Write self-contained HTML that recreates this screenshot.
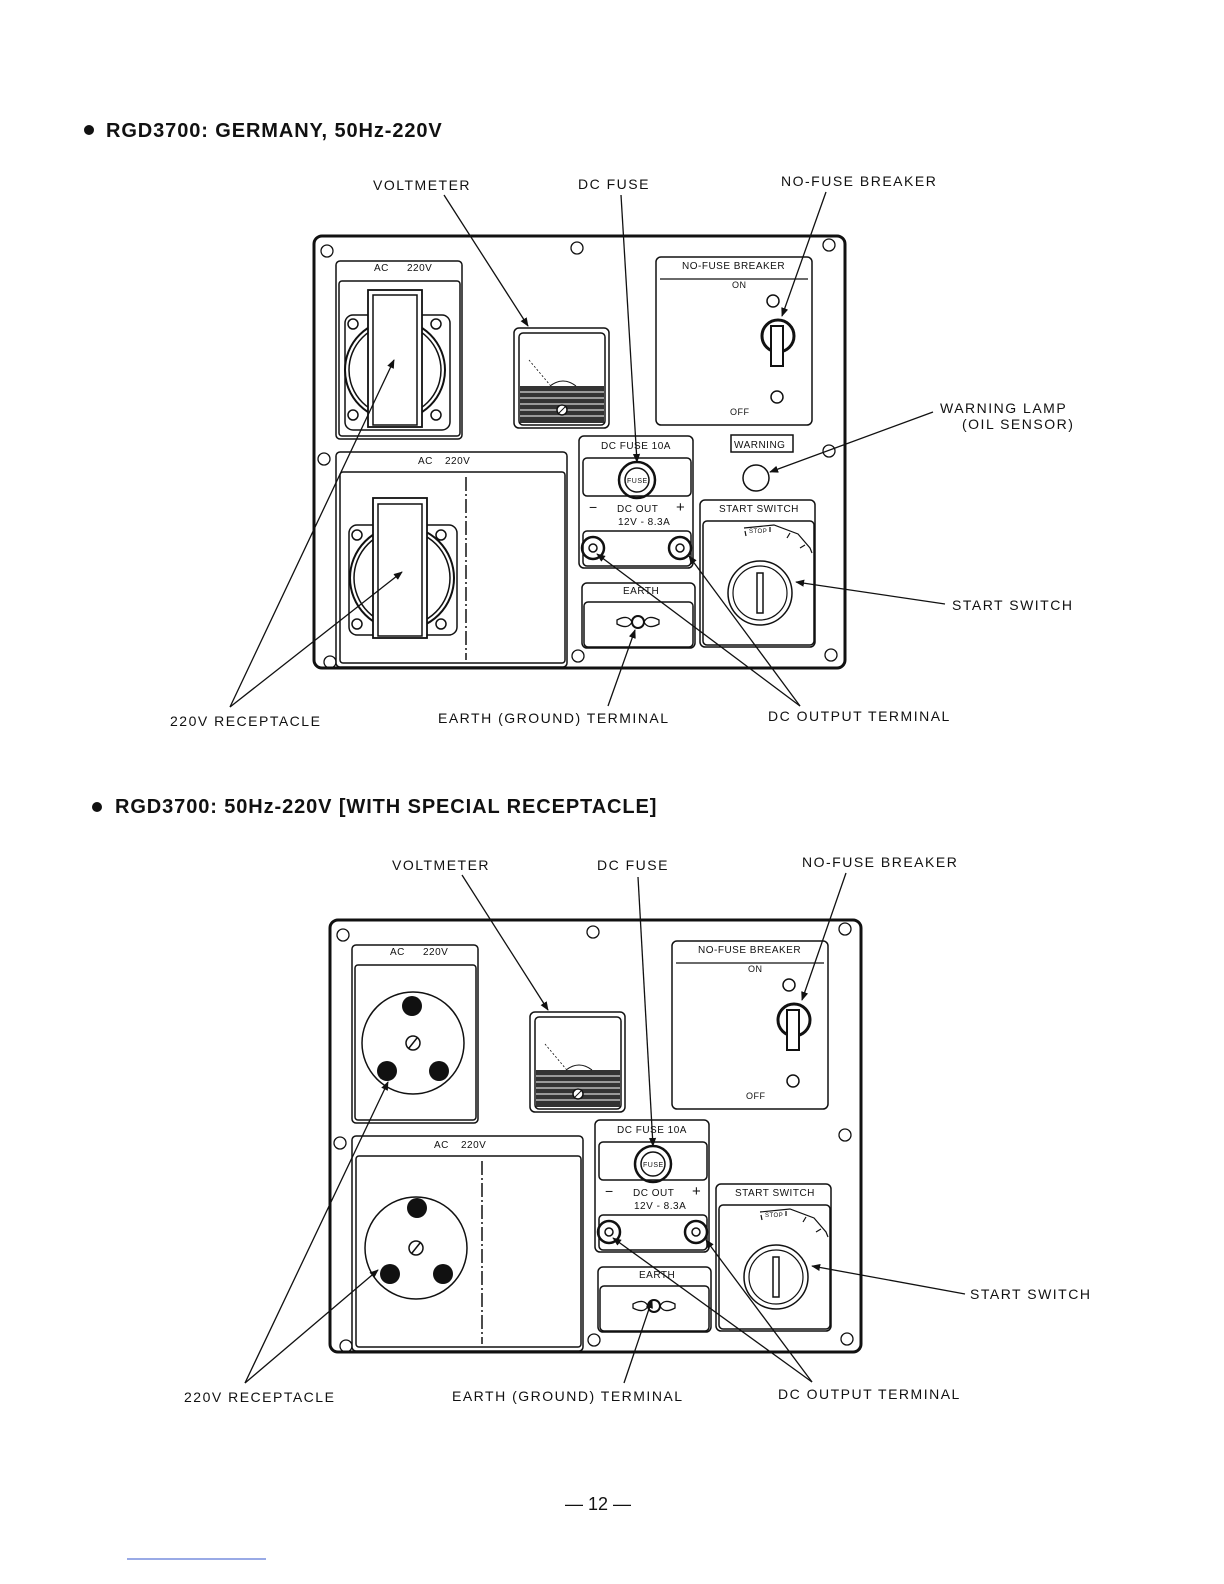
<!DOCTYPE html>
<html><head><meta charset="utf-8"><style>
html,body{margin:0;padding:0;background:#fff}
svg{display:block}
text{font-family:"Liberation Sans",sans-serif;fill:#111}
.l{font-size:14px;letter-spacing:1.5px}
.s{font-size:10px;letter-spacing:0.5px}
.h{font-size:20px;font-weight:bold;letter-spacing:0.9px}
</style></head><body>
<svg width="1224" height="1584" viewBox="0 0 1224 1584" xmlns="http://www.w3.org/2000/svg">
<defs>
<marker id="a" viewBox="0 0 10 10" refX="9" refY="5" markerWidth="9" markerHeight="9" orient="auto" markerUnits="userSpaceOnUse"><path d="M0,1 L10,5 L0,9 z" fill="#111"/></marker>
<g id="p">
<g fill="none" stroke="#111" stroke-width="1.5">
<rect x="314" y="236" width="531" height="432" rx="8" stroke-width="3"/>
<g stroke-width="1.3">
<circle cx="327" cy="251" r="6"/><circle cx="577" cy="248" r="6"/><circle cx="829" cy="245" r="6"/>
<circle cx="324" cy="459" r="6"/><circle cx="829" cy="451" r="6"/>
<circle cx="330" cy="662" r="6"/><circle cx="578" cy="656" r="6"/><circle cx="831" cy="655" r="6"/>
</g>
<rect x="336" y="261" width="126" height="178" rx="4"/>
<rect x="339" y="281" width="121" height="155" rx="3"/>
<rect x="336" y="452" width="231" height="215" rx="4"/>
<rect x="340" y="472" width="225" height="191" rx="3"/>
<line x1="466" y1="477" x2="466" y2="660" stroke-dasharray="14 3 2 3"/>
<rect x="514" y="328" width="95" height="100" rx="5"/>
<rect x="519" y="333" width="86" height="92" rx="4"/>
<rect x="520" y="386" width="84" height="37" fill="#333" stroke="none"/>
<g stroke="#fff" stroke-width="1"><line x1="520" y1="392" x2="604" y2="392"/><line x1="520" y1="398" x2="604" y2="398"/><line x1="520" y1="404" x2="604" y2="404"/><line x1="520" y1="410" x2="604" y2="410"/><line x1="520" y1="416" x2="604" y2="416"/></g>
<circle cx="562" cy="410" r="5" fill="#fff"/><line x1="559" y1="413" x2="565" y2="407" stroke-width="1"/>
<path d="M550,386 Q563,376 576,386" stroke-width="1"/>
<line x1="529" y1="360" x2="550" y2="385" stroke-width="0.8" stroke-dasharray="2 2"/>
<rect x="579" y="436" width="114" height="132" rx="5"/>
<rect x="583" y="458" width="108" height="38" rx="4"/>
<circle cx="637" cy="480" r="18" stroke-width="2.5"/><circle cx="637" cy="480" r="12"/>
<rect x="583" y="531" width="108" height="35" rx="4"/>
<circle cx="593" cy="548" r="11" stroke-width="2.5"/><circle cx="593" cy="548" r="4"/>
<circle cx="680" cy="548" r="11" stroke-width="2.5"/><circle cx="680" cy="548" r="4"/>
<rect x="582" y="583" width="113" height="65" rx="5"/>
<rect x="584" y="602" width="109" height="45" rx="4"/>
<path d="M617,620 Q628,614 632,622 Q628,630 617,624 z" stroke-width="1.3"/>
<path d="M659,620 Q648,614 644,622 Q648,630 659,624 z" stroke-width="1.3"/>
<circle cx="638" cy="622" r="6" stroke-width="2"/>
<rect x="656" y="257" width="156" height="168" rx="5"/>
<line x1="660" y1="279" x2="808" y2="279" stroke-width="1.2"/>
<circle cx="773" cy="301" r="6"/><circle cx="777" cy="397" r="6"/>
<circle cx="778" cy="336" r="16" stroke-width="3"/>
<rect x="771" y="326" width="12" height="40" fill="#fff" stroke-width="2"/>
<rect x="700" y="500" width="115" height="147" rx="5"/>
<rect x="703" y="521" width="111" height="124" rx="4"/>
<circle cx="760" cy="593" r="32" stroke-width="1.5"/>
<circle cx="760" cy="593" r="27" stroke-width="1.2"/>
<rect x="757" y="573" width="6" height="40" stroke-width="1.5"/>
<path d="M744,528 L774,525 L798,534 L810,548 L812,553" stroke-width="1.2"/>
<path d="M745,531 L746,536 M770,527 L770,532 M790,533 L787,538 M805,545 L800,548" stroke-width="1.2"/>
</g>
<g class="s">
<text x="374" y="271">AC</text><text x="407" y="271">220V</text>
<text x="418" y="464">AC</text><text x="445" y="464">220V</text>
<text x="601" y="449">DC FUSE 10A</text>
<text x="627" y="483" font-size="7">FUSE</text>
<text x="589" y="512" font-size="14">−</text><text x="617" y="512">DC OUT</text><text x="676" y="512" font-size="15">+</text>
<text x="618" y="525">12V - 8.3A</text>
<text x="623" y="594">EARTH</text>
<text x="682" y="269">NO-FUSE BREAKER</text>
<text x="732" y="288" font-size="9">ON</text>
<text x="730" y="415" font-size="9">OFF</text>
<text x="719" y="512">START SWITCH</text>
<text x="749" y="533" font-size="6">STOP</text>
</g>
</g>
</defs>

<g fill="none" stroke="#111" stroke-width="1.5">
<rect x="345" y="315" width="105" height="115" rx="8"/>
<circle cx="395" cy="370" r="50" stroke-width="2"/>
<circle cx="395" cy="370" r="46"/>
<circle cx="353" cy="324" r="5"/><circle cx="436" cy="324" r="5"/><circle cx="353" cy="415" r="5"/><circle cx="436" cy="415" r="5"/>
<rect x="368" y="290" width="54" height="137" fill="#fff" stroke-width="1.8"/>
<rect x="373" y="295" width="44" height="130"/>
<rect x="349" y="525" width="108" height="110" rx="8"/>
<circle cx="402" cy="578" r="52" stroke-width="2"/>
<circle cx="402" cy="578" r="48"/>
<circle cx="357" cy="535" r="5"/><circle cx="441" cy="535" r="5"/><circle cx="357" cy="624" r="5"/><circle cx="441" cy="624" r="5"/>
<rect x="373" y="498" width="54" height="140" fill="#fff" stroke-width="1.8"/>
<rect x="378" y="504" width="44" height="132"/>
<rect x="731" y="435" width="62" height="17"/>
<circle cx="756" cy="478" r="13"/>
</g>
<text class="s" x="734" y="448">WARNING</text>

<use href="#p"/>
<use href="#p" transform="translate(16,684)"/>

<g fill="none" stroke="#111" stroke-width="1.5">
<circle cx="413" cy="1043" r="51"/>
<circle cx="413" cy="1043" r="7"/><line x1="409" y1="1048" x2="417" y2="1038"/>
<circle cx="416" cy="1248" r="51"/>
<circle cx="416" cy="1248" r="7"/><line x1="412" y1="1253" x2="420" y2="1243"/>
</g>
<g fill="#111">
<circle cx="412" cy="1006" r="10"/><circle cx="387" cy="1071" r="10"/><circle cx="439" cy="1071" r="10"/>
<circle cx="417" cy="1208" r="10"/><circle cx="390" cy="1274" r="10"/><circle cx="443" cy="1274" r="10"/>
</g>

<circle cx="89" cy="130" r="5" fill="#111"/>
<text class="h" x="106" y="137">RGD3700: GERMANY, 50Hz-220V</text>
<circle cx="97" cy="807" r="5" fill="#111"/>
<text class="h" x="115" y="813">RGD3700: 50Hz-220V [WITH SPECIAL RECEPTACLE]</text>

<g class="l">
<text x="373" y="190">VOLTMETER</text>
<text x="578" y="189">DC FUSE</text>
<text x="781" y="186">NO-FUSE BREAKER</text>
<text x="940" y="413">WARNING LAMP</text>
<text x="962" y="429">(OIL SENSOR)</text>
<text x="952" y="610">START SWITCH</text>
<text x="170" y="726">220V RECEPTACLE</text>
<text x="438" y="723">EARTH (GROUND) TERMINAL</text>
<text x="768" y="721">DC OUTPUT TERMINAL</text>

<text x="392" y="870">VOLTMETER</text>
<text x="597" y="870">DC FUSE</text>
<text x="802" y="867">NO-FUSE BREAKER</text>
<text x="970" y="1299">START SWITCH</text>
<text x="184" y="1402">220V RECEPTACLE</text>
<text x="452" y="1401">EARTH (GROUND) TERMINAL</text>
<text x="778" y="1399">DC OUTPUT TERMINAL</text>
</g>

<g stroke="#111" stroke-width="1.3" fill="none" marker-end="url(#a)">
<line x1="444" y1="195" x2="528" y2="326"/>
<line x1="621" y1="195" x2="637" y2="462"/>
<line x1="826" y1="192" x2="782" y2="316"/>
<line x1="933" y1="412" x2="770" y2="472"/>
<line x1="945" y1="604" x2="796" y2="582"/>
<line x1="230" y1="707" x2="394" y2="360"/>
<line x1="230" y1="707" x2="402" y2="572"/>
<line x1="608" y1="706" x2="635" y2="630"/>
<line x1="800" y1="706" x2="597" y2="554"/>
<line x1="800" y1="706" x2="689" y2="556"/>

<line x1="462" y1="875" x2="548" y2="1010"/>
<line x1="638" y1="877" x2="653" y2="1146"/>
<line x1="846" y1="873" x2="802" y2="1000"/>
<line x1="965" y1="1294" x2="812" y2="1266"/>
<line x1="245" y1="1383" x2="388" y2="1082"/>
<line x1="245" y1="1383" x2="378" y2="1270"/>
<line x1="624" y1="1383" x2="652" y2="1300"/>
<line x1="812" y1="1382" x2="613" y2="1238"/>
<line x1="812" y1="1382" x2="706" y2="1240"/>
</g>

<text x="598" y="1510" font-size="18" text-anchor="middle">— 12 —</text>
<line x1="127" y1="1559" x2="266" y2="1559" stroke="#3355cc" stroke-width="1"/>
</svg>
</body></html>
